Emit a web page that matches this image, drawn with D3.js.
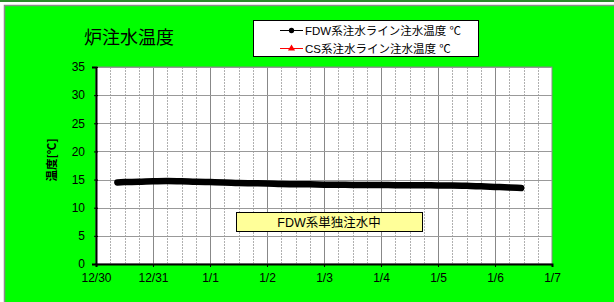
<!DOCTYPE html>
<html>
<head>
<meta charset="utf-8">
<script src="https://cdn.jsdelivr.net/npm/d3@7"></script>
<style>
  body { margin: 0; background: #fff; }
  text { font-family: "Liberation Sans", Arial, "Noto Sans CJK JP", sans-serif; }
</style>
</head>
<body>
<svg width="614" height="302"></svg>
<script>
const width = 614;
const height = 302;

// FDW line temperature readings (date/time, deg C)
const fdwTimes = [
  '2011-12-30 09:00', '2011-12-30 12:00', '2011-12-30 18:00',
  '2011-12-31 00:00', '2011-12-31 06:00', '2011-12-31 12:00', '2011-12-31 18:00',
  '2012-01-01 00:00', '2012-01-01 06:00', '2012-01-01 12:00', '2012-01-01 18:00',
  '2012-01-02 00:00', '2012-01-02 06:00', '2012-01-02 12:00', '2012-01-02 18:00',
  '2012-01-03 00:00', '2012-01-03 06:00', '2012-01-03 12:00', '2012-01-03 18:00',
  '2012-01-04 00:00', '2012-01-04 06:00', '2012-01-04 12:00', '2012-01-04 18:00',
  '2012-01-05 00:00', '2012-01-05 06:00', '2012-01-05 12:00', '2012-01-05 18:00',
  '2012-01-06 00:00', '2012-01-06 06:00', '2012-01-06 11:00'
];
const fdwTemps = [
  14.5, 14.55, 14.6,
  14.7, 14.75, 14.7, 14.6,
  14.55, 14.5, 14.4, 14.35,
  14.3, 14.2, 14.15, 14.15,
  14.1, 14.1, 14.05, 14.05,
  14.05, 14.0, 14.0, 14.0,
  13.95, 13.95, 13.9, 13.8,
  13.7, 13.6, 13.5
];
const csTemps = [];

const xStart = '2011-12-30 00:00';
const xEnd = '2012-01-07 00:00';
const yTicks = [0, 5, 10, 15, 20, 25, 30, 35];

const title = '炉注水温度';
const yLabel = '温度[℃]';
const seriesNames = ['FDW系注水ライン注水温度 ℃', 'CS系注水ライン注水温度 ℃'];
const note = 'FDW系単独注水中';

const parse = d3.timeParse('%Y-%m-%d %H:%M');
const data = fdwTimes.map((t, i) => ({ t: parse(t), v: fdwTemps[i] }));

const plot = { left: 96, right: 552, top: 67, bottom: 264 };

const svg = d3.select('svg');

// frame
svg.append('rect').attr('x', 0).attr('y', 0).attr('width', width).attr('height', 2).attr('fill', '#2a8a2a');
svg.append('rect').attr('x', 4.5).attr('y', 5.5).attr('width', width).attr('height', height)
  .attr('fill', '#00ff00').attr('stroke', '#8a8a8a').attr('stroke-width', 1.5);

const xScale = d3.scaleTime()
  .domain([parse(xStart), parse(xEnd)])
  .range([plot.left, plot.right]);

const yScale = d3.scaleLinear()
  .domain([0, 35])
  .range([plot.bottom, plot.top]);

svg.append('rect')
  .attr('x', plot.left).attr('y', plot.top)
  .attr('width', plot.right - plot.left).attr('height', plot.bottom - plot.top)
  .attr('fill', '#fff').attr('stroke', '#888');

// minor vertical grid (6 hours)
svg.append('g')
  .selectAll('line')
  .data(d3.timeHour.every(6).range(parse(xStart), parse(xEnd)).filter(d => d.getHours() !== 0))
  .enter()
  .append('line')
    .attr('x1', d => Math.round(xScale(d)) + 0.5)
    .attr('x2', d => Math.round(xScale(d)) + 0.5)
    .attr('y1', plot.top)
    .attr('y2', plot.bottom)
    .attr('stroke', '#b0b0b0')
    .attr('stroke-dasharray', '2,1');

// day grid
svg.append('g')
  .selectAll('line')
  .data(d3.timeDay.range(parse(xStart), parse(xEnd)).slice(1))
  .enter()
  .append('line')
    .attr('x1', d => Math.round(xScale(d)) + 0.5)
    .attr('x2', d => Math.round(xScale(d)) + 0.5)
    .attr('y1', plot.top)
    .attr('y2', plot.bottom)
    .attr('stroke', '#888');

// horizontal grid
svg.append('g')
  .selectAll('line')
  .data(yTicks.slice(1))
  .enter()
  .append('line')
    .attr('x1', plot.left)
    .attr('x2', plot.right)
    .attr('y1', d => Math.round(yScale(d)) + 0.5)
    .attr('y2', d => Math.round(yScale(d)) + 0.5)
    .attr('stroke', '#999');

// Y - Axis
svg.append('g')
  .attr('transform', 'translate(' + plot.left + ',0)')
  .call(d3.axisLeft(yScale).tickValues(yTicks).tickSize(4).tickPadding(7))
  .call(g => g.select('.domain').attr('stroke', '#000').attr('stroke-width', 2))
  .call(g => g.selectAll('.tick line').attr('stroke', '#000').attr('transform', 'translate(2,0)'))
  .call(g => g.selectAll('text').attr('font-size', 12).attr('fill', '#000')
    .attr('font-family', '"Liberation Sans", Arial, sans-serif'));

// X - Axis
svg.append('g')
  .attr('transform', 'translate(0,' + plot.bottom + ')')
  .call(d3.axisBottom(xScale).ticks(d3.timeDay.every(1)).tickFormat(d3.timeFormat('%-m/%-d')).tickSize(3).tickPadding(6))
  .call(g => g.select('.domain').attr('stroke', '#000').attr('stroke-width', 2))
  .call(g => g.selectAll('.tick line').attr('stroke', '#000'))
  .call(g => g.selectAll('text').attr('font-size', 12).attr('fill', '#000')
    .attr('font-family', '"Liberation Sans", Arial, sans-serif'));

// FDW series
let line = d3.line()
  .x(d => xScale(d.t))
  .y(d => yScale(d.v))
  .curve(d3.curveMonotoneX);

svg.append('path')
  .datum(data)
  .attr('d', line)
  .attr('fill', 'none')
  .attr('stroke', '#000')
  .attr('stroke-width', 6.5)
  .attr('stroke-linecap', 'round')
  .attr('stroke-linejoin', 'round');

// note box
svg.append('rect')
  .attr('x', 236.5).attr('y', 212.5).attr('width', 186).attr('height', 19)
  .attr('fill', '#ffff99').attr('stroke', '#000');
svg.append('text')
  .text(note)
  .attr('x', 329).attr('y', 226.5)
  .attr('text-anchor', 'middle')
  .attr('font-size', 12.5);

// title
svg.append('text')
  .text(title)
  .attr('x', 84).attr('y', 44)
  .attr('font-size', 18);

// y label
svg.append('text')
  .text(yLabel)
  .attr('transform', 'translate(52,160) rotate(-90)')
  .attr('text-anchor', 'middle')
  .attr('dy', '0.35em')
  .attr('font-size', 11.5)
  .attr('font-weight', 'bold')
  .style('font-family', '"Noto Sans CJK JP", sans-serif');

// legend
const legend = svg.append('g');
legend.append('rect')
  .attr('x', 253.5).attr('y', 20.5).attr('width', 225).attr('height', 36)
  .attr('fill', '#fff').attr('stroke', '#000');

const legendRows = [
  { name: seriesNames[0], color: '#000', symbol: d3.symbolCircle, y: 30.5 },
  { name: seriesNames[1], color: '#ff0000', symbol: d3.symbolTriangle, y: 48.5 }
];

legendRows.forEach(r => {
  legend.append('line')
    .attr('x1', 280).attr('x2', 303).attr('y1', r.y).attr('y2', r.y)
    .attr('stroke', r.color).attr('stroke-width', 1);
  legend.append('path')
    .attr('d', d3.symbol().type(r.symbol).size(22)())
    .attr('transform', 'translate(291.5,' + r.y + ')')
    .attr('fill', r.color);
  legend.append('text')
    .text(r.name)
    .attr('x', 305).attr('y', r.y + 4)
    .attr('font-size', 11.5);
});
</script>
</body>
</html>
